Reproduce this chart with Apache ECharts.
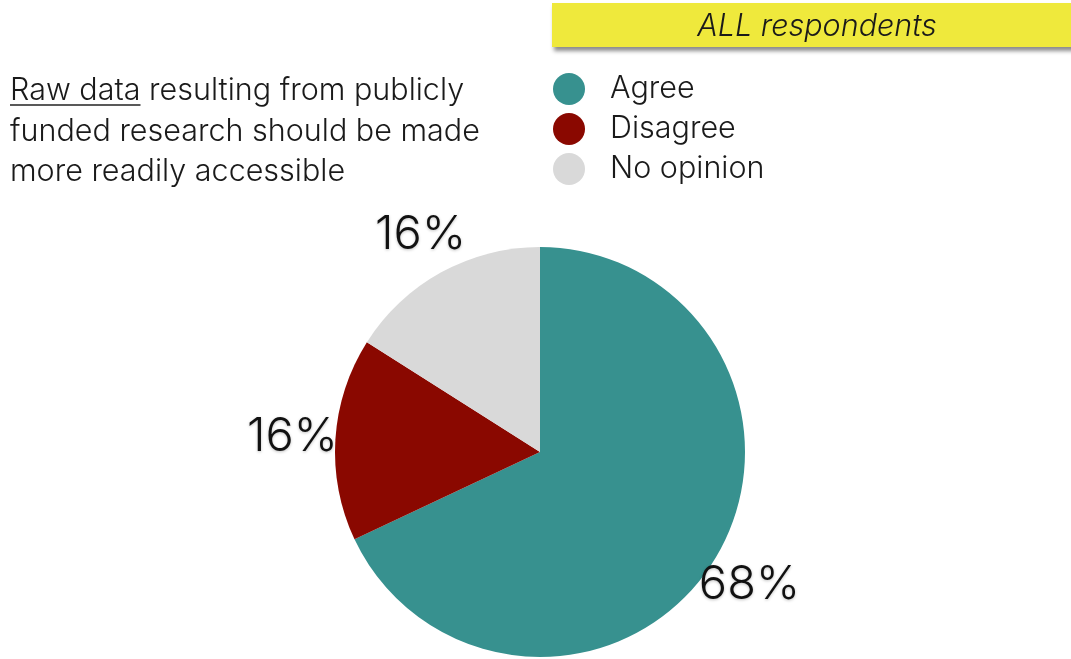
<!DOCTYPE html>
<html>
<head>
<meta charset="utf-8">
<script src="https://cdn.jsdelivr.net/npm/echarts@6/dist/echarts.min.js"></script>
<style>
  html, body { margin: 0; padding: 0; background: #ffffff; }
  #chart { width: 1071px; height: 659px; }
</style>
</head>
<body>
<div id="chart"></div>
<script>
// Survey answers (share of all respondents, %)
const categories = ['Agree', 'Disagree', 'No opinion'];
const shares = [68, 16, 16];
const colors = ['#37918f', '#8a0800', '#d9d9d9'];

const bandTitle = 'ALL respondents';
const statementLead = 'Raw data';
const statementLines = [
  'Raw data resulting from publicly',
  'funded research should be made',
  'more readily accessible'
];

const FONT = 'Inter, "Helvetica Neue", Helvetica, Arial, sans-serif';
const BODY_SIZE = 30.5;
const BODY_WEIGHT = 350;

const chart = echarts.init(document.getElementById('chart'), null, { renderer: 'canvas' });

// width of the underlined lead words
const ctx = document.createElement('canvas').getContext('2d');
ctx.font = BODY_WEIGHT + ' ' + BODY_SIZE + 'px ' + FONT;
const leadWidth = ctx.measureText(statementLead).width;

const pieData = categories.map((name, i) => ({ name, value: shares[i], itemStyle: { color: colors[i] } }));

chart.setOption({
  animation: false,
  backgroundColor: '#ffffff',
  title: {
    text: statementLines.join('\n'),
    left: 10,
    top: 71,
    padding: 0,
    textStyle: { fontFamily: FONT, fontSize: BODY_SIZE, fontWeight: BODY_WEIGHT, color: '#1a1a1a', lineHeight: 40.5 }
  },
  legend: {
    orient: 'vertical',
    left: 553,
    top: 73,
    padding: 0,
    icon: 'circle',
    itemWidth: 32,
    itemHeight: 32,
    itemGap: 8,
    selectedMode: false,
    data: categories,
    textStyle: { fontFamily: FONT, fontSize: 30.5, fontWeight: BODY_WEIGHT, color: '#1a1a1a', lineHeight: 32, padding: [0, 0, 0, 20] }
  },
  graphic: [
    {
      type: 'rect',
      shape: { x: 552, y: 3, width: 530, height: 44 },
      style: { fill: '#efe93c', shadowBlur: 4, shadowOffsetY: 4, shadowOffsetX: 2, shadowColor: 'rgba(0,0,0,0.45)' },
      z: 10
    },
    {
      type: 'text',
      x: 817, y: 27,
      style: {
        text: bandTitle, fill: '#1a1a1a', font: 'italic ' + BODY_WEIGHT + ' 30.5px ' + FONT,
        align: 'center', verticalAlign: 'middle'
      },
      z: 11
    },
    {
      type: 'line',
      shape: { x1: 10, y1: 105, x2: 10 + leadWidth, y2: 105 },
      style: { stroke: '#222222', lineWidth: 1.5 },
      z: 11
    }
  ],
  series: [
    {
      type: 'pie',
      center: [540, 452],
      radius: 205,
      startAngle: 90,
      clockwise: true,
      silent: true,
      label: { show: false },
      labelLine: { show: false },
      itemStyle: { borderWidth: 0 },
      data: pieData
    },
    {
      // transparent ring used only to place the percentage labels around the pie
      type: 'pie',
      center: [540, 452],
      radius: [230, 260],
      startAngle: 90,
      clockwise: true,
      silent: true,
      itemStyle: { color: 'rgba(0,0,0,0)', borderWidth: 0 },
      label: {
        show: true,
        position: 'inside',
        formatter: '{c}%',
        fontFamily: FONT,
        fontWeight: 300,
        fontSize: 47,
        color: '#111111',
        textShadowColor: 'rgba(0,0,0,0.25)',
        textShadowBlur: 3,
        textShadowOffsetY: 1
      },
      labelLine: { show: false },
      data: categories.map((name, i) => ({ name, value: shares[i] })),
      z: 5
    }
  ]
});
</script>
</body>
</html>
